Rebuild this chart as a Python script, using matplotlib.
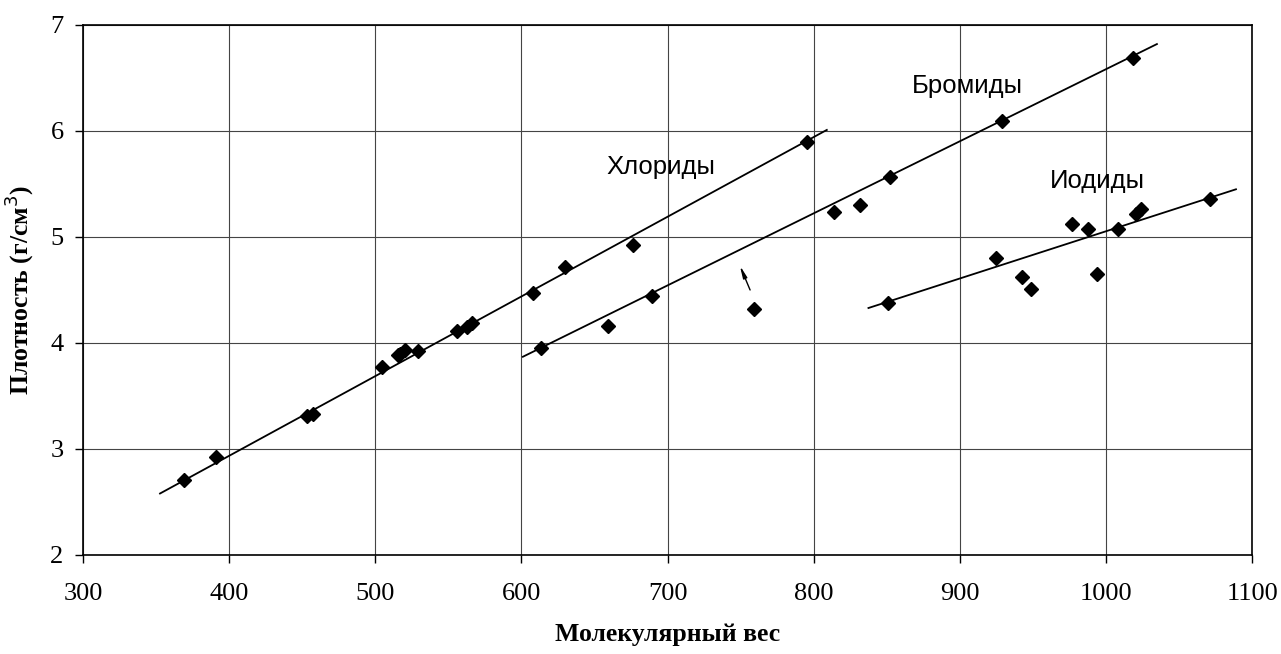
import matplotlib.pyplot as plt

# chlorides
chl_x = [369.3, 391.0, 453.5, 457.2, 504.4, 515.8, 517.0, 520.4, 529.5, 556.2, 562.6, 566.0,
         608.2, 629.9, 676.7, 795.3]
chl_y = [2.71, 2.92, 3.31, 3.33, 3.77, 3.89, 3.90, 3.93, 3.92, 4.11, 4.15, 4.19,
         4.47, 4.72, 4.92, 5.90]
chl_line_x = [352.7, 809.0]
chl_line_y = [2.58, 6.01]

# bromides
br_x = [613.5, 659.6, 689.2, 759.3, 814.0, 831.4, 852.4, 928.8, 1018.2]
br_y = [3.95, 4.16, 4.44, 4.32, 5.24, 5.30, 5.57, 6.09, 6.69]
br_line_x = [601.0, 1034.9]
br_line_y = [3.87, 6.82]

# iodides
io_x = [850.8, 924.7, 942.7, 948.4, 977.1, 987.4, 993.8, 1008.4, 1020.7, 1023.9, 1070.9]
io_y = [4.38, 4.80, 4.62, 4.51, 5.12, 5.08, 4.65, 5.08, 5.22, 5.26, 5.36]
io_line_x = [837.5, 1089.0]
io_line_y = [4.33, 5.45]

xticks = [300, 400, 500, 600, 700, 800, 900, 1000, 1100]
yticks = [2, 3, 4, 5, 6, 7]

fig = plt.figure(figsize=(12.81, 6.54), dpi=100)
ax = fig.add_axes([0.0648, 0.1514, 0.9126, 0.8104])

for lx, ly in [(chl_line_x, chl_line_y), (br_line_x, br_line_y), (io_line_x, io_line_y)]:
    ax.plot(lx, ly, color='black', lw=1.3, zorder=3)
for px, py in [(chl_x, chl_y), (br_x, br_y), (io_x, io_y)]:
    ax.plot(px, py, 'D', color='black', markersize=7, lw=0, zorder=4)

# arrow near the outlier
ax.annotate('', xy=(749.5, 4.73), xytext=(756.5, 4.50),
            arrowprops=dict(arrowstyle='-|>,head_length=0.7,head_width=0.12',
                            color='black', lw=1.0, shrinkA=0, shrinkB=0))

txt = dict(fontsize=18.5, family='Liberation Sans', ha='center', va='center')
ax.text(695.6, 5.66, 'Хлориды', **txt)
ax.text(905.4, 6.42, 'Бромиды', **txt)
ax.text(994.4, 5.53, 'Иодиды', **txt)

ax.set_xlim(300, 1100)
ax.set_ylim(2, 7)
ax.set_xticks(xticks)
ax.set_yticks(yticks)
ax.grid(True, color='#444444', lw=0.8)
ax.set_axisbelow(True)
for s in ax.spines.values():
    s.set_color('black')
    s.set_linewidth(1.2)
ax.tick_params(direction='out', length=6, width=1, labelsize=19)
ax.tick_params(axis='x', pad=14)
ax.tick_params(axis='y', pad=8)
for lab in ax.get_xticklabels() + ax.get_yticklabels():
    lab.set_family('Liberation Serif')

ax.set_xlabel('Молекулярный вес', family='Liberation Serif', fontweight='bold',
              fontsize=18.5, labelpad=13)
ax.set_ylabel('Плотность (г/см$^3$)', family='Liberation Serif', fontweight='bold',
              fontsize=18.5, labelpad=10)

fig.savefig('out.png', dpi=100)
